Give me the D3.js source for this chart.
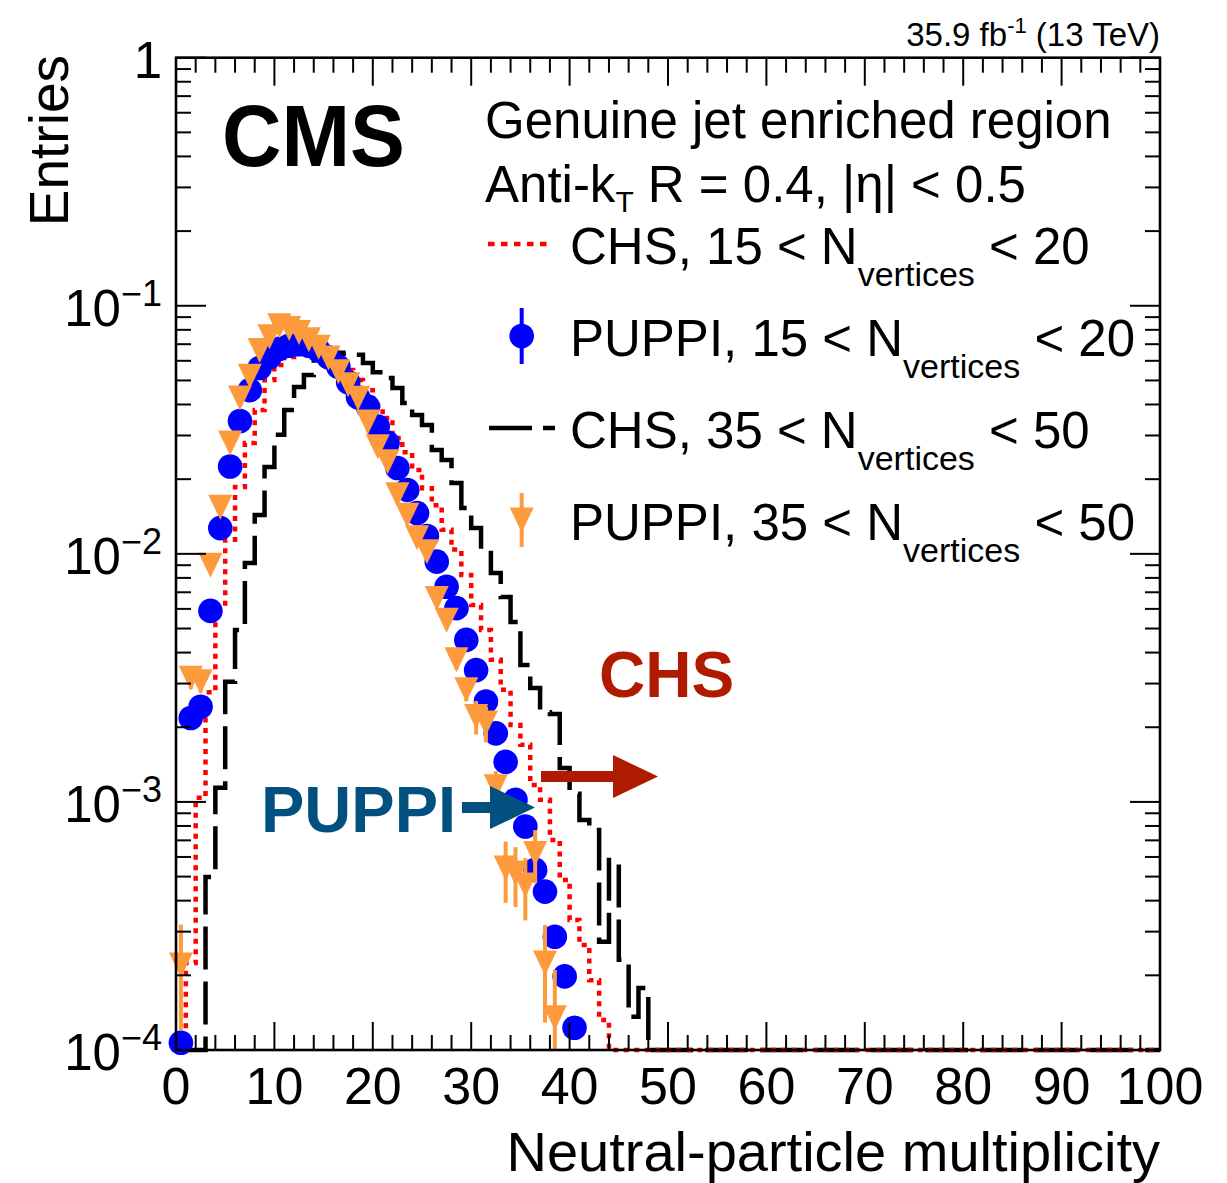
<!DOCTYPE html>
<html>
<head>
<meta charset="utf-8">
<script src="https://cdn.jsdelivr.net/npm/d3@7"></script>
<style>
  body { margin: 0; background: #fff; }
  text { font-family: "Liberation Sans", Arial, Helvetica, sans-serif; }
</style>
</head>
<body>
<div id="chart"></div>
<script>
// ---- data (bin i covers [i, i+1) ; bins past the end of an array are empty) ----
const nBins = 100
const xTicks = [0, 10, 20, 30, 40, 50, 60, 70, 80, 90, 100]
const yTicks = [1e-4, 1e-3, 1e-2, 1e-1, 1]
const yTickBase = ["10", "10", "10", "10", "1"]
const yTickExp = ["\u22124", "\u22123", "\u22122", "\u22121", ""]

// CHS, 15 < Nvertices < 20 (red dotted histogram)
const chsLow = [0, 2.24e-4, 1.04e-3, 2.77e-3, 6.12e-3, 0.0114, 0.0186, 0.0280, 0.0380, 0.0502,
  0.0577, 0.0622, 0.0652, 0.0664, 0.0658, 0.0640, 0.0605, 0.0551, 0.0502, 0.0457,
  0.0395, 0.0353, 0.0293, 0.0257, 0.0218, 0.0184, 0.0157, 0.0125, 0.0104, 0.00822,
  0.00622, 0.00493, 0.00374, 0.00283, 0.00204, 0.00170, 0.00117, 0.00102, 7.03e-4, 4.85e-4,
  3.34e-4, 2.65e-4, 1.91e-4, 1.32e-4]

// CHS, 35 < Nvertices < 50 (black dashed histogram)
const chsHigh = [0, 0, 0, 4.98e-4, 1.14e-3, 3.05e-3, 4.93e-3, 9.18e-3, 0.01435, 0.0224,
  0.0302, 0.0380, 0.0471, 0.0526, 0.0622, 0.0646, 0.0646, 0.0640, 0.0634, 0.0588,
  0.0540, 0.0512, 0.0466, 0.0406, 0.0363, 0.0331, 0.0262, 0.0239, 0.0193, 0.0153,
  0.0127, 0.01037, 0.00838, 0.00670, 0.00531, 0.00356, 0.00288, 0.00230, 0.00226, 0.00137,
  0.00108, 8.46e-4, 7.71e-4, 2.73e-4, 5.83e-4, 2.31e-4, 1.36e-4, 1.78e-4]

// PUPPI, 15 < Nvertices < 20 (blue circles)
const puppiLow = [1.07e-4, 2.18e-3, 2.42e-3, 5.89e-3, 0.0127, 0.0225, 0.0343, 0.0457, 0.0561, 0.062,
  0.067, 0.069, 0.070, 0.069, 0.066, 0.062, 0.0568, 0.0492, 0.0428, 0.0392,
  0.0326, 0.0280, 0.0222, 0.0181, 0.0146, 0.0118, 0.0093, 0.00737, 0.00604, 0.00450,
  0.00340, 0.00254, 0.00189, 0.00145, 0.00102, 7.96e-4, 5.32e-4, 4.35e-4, 2.86e-4, 1.98e-4,
  1.23e-4]

// PUPPI, 35 < Nvertices < 50 (orange triangles) and their errors
const puppiHigh = [2.2e-4, 3.15e-3, 3.05e-3, 9.0e-3, 0.0154, 0.028, 0.0425, 0.052, 0.066, 0.075,
  0.083, 0.081, 0.078, 0.073, 0.068, 0.0616, 0.0542, 0.048, 0.0424, 0.034,
  0.027, 0.0235, 0.0173, 0.0143, 0.0116, 0.0102, 0.0066, 0.0054, 0.00374, 0.00283,
  0.00221, 0.00208, 0.00115, 5.42e-4, 5.17e-4, 4.63e-4, 6.2e-4, 2.24e-4, 1.35e-4]
const puppiHighErr = [1.0e-4, 3e-4, 3e-4, 5e-4, 6e-4, 8e-4, 1e-3, 1.1e-3, 1.2e-3, 1.3e-3,
  1.4e-3, 1.4e-3, 1.3e-3, 1.3e-3, 1.2e-3, 1.2e-3, 1.1e-3, 1e-3, 1e-3, 9e-4,
  8e-4, 8e-4, 7e-4, 6e-4, 5.5e-4, 5e-4, 4e-4, 3.8e-4, 3.2e-4, 2.8e-4,
  3.4e-4, 3.4e-4, 1.8e-4, 1.5e-4, 1.4e-4, 1.3e-4, 1.5e-4, 0.95e-4, 0.75e-4]

// ---- layout ----
const W = 1227, H = 1183
const frame = { left: 176, right: 1160, top: 57.7, bottom: 1050 }
const colors = { red: "#ff0000", blue: "#0000ff", orange: "#fd9a3c", puppi: "#01507f", chs: "#b01a00" }

const svg = d3.select("#chart").append("svg")
  .attr("width", W).attr("height", H)

const x = d3.scaleLinear().domain([0, nBins]).range([frame.left, frame.right])
const y = d3.scaleLog().domain([1e-4, 1]).range([frame.bottom, frame.top])
const yc = v => v > 1e-4 ? y(v) : y(1e-4)

/* HISTOGRAM STEPS */
function stepPoints(vals) {
  const pts = []
  for (let i = 0; i < nBins; i++) {
    const v = i < vals.length ? vals[i] : 0
    pts.push([i, v], [i + 1, v])
  }
  return pts
}
const stepLine = d3.line().x(d => x(d[0])).y(d => yc(d[1]))

svg.append("path")
  .attr("d", stepLine(stepPoints(chsHigh)))
  .attr("fill", "none").attr("stroke", "#000")
  .attr("stroke-width", 4.5).attr("stroke-dasharray", "43,12")

svg.append("path")
  .attr("d", stepLine(stepPoints(chsLow)))
  .attr("fill", "none").attr("stroke", colors.red)
  .attr("stroke-width", 4.5).attr("stroke-dasharray", "5,5.5")

/* MARKERS */
svg.append("g").selectAll("circle")
  .data(puppiLow)
  .join("circle")
  .attr("cx", (d, i) => x(i + 0.5))
  .attr("cy", d => y(d))
  .attr("r", 12.3)
  .attr("fill", colors.blue)

svg.append("g").selectAll("line")
  .data(puppiHigh)
  .join("line")
  .attr("x1", (d, i) => x(i + 0.5)).attr("x2", (d, i) => x(i + 0.5))
  .attr("y1", (d, i) => yc(d + puppiHighErr[i]))
  .attr("y2", (d, i) => yc(d - puppiHighErr[i]))
  .attr("stroke", colors.orange).attr("stroke-width", 4)

const tri = (cx, cy) => `M${cx - 12},${cy - 12.5}L${cx + 12},${cy - 12.5}L${cx},${cy + 12.5}Z`
svg.append("g").selectAll("path")
  .data(puppiHigh)
  .join("path")
  .attr("d", (d, i) => tri(x(i + 0.5), y(d)))
  .attr("fill", colors.orange)

/* FRAME AND TICKS */
const axes = svg.append("g").attr("stroke", "#000")
axes.append("rect")
  .attr("x", frame.left).attr("y", frame.top)
  .attr("width", frame.right - frame.left).attr("height", frame.bottom - frame.top)
  .attr("fill", "none").attr("stroke-width", 2.6)

const xMinor = d3.range(0, nBins + 1, 2).filter(v => v % 10 !== 0)
const xAll = xTicks.map(v => ({ v, len: 28 })).concat(xMinor.map(v => ({ v, len: 15 })))
axes.selectAll(".xt-b").data(xAll).join("line")
  .attr("x1", d => x(d.v)).attr("x2", d => x(d.v))
  .attr("y1", frame.bottom).attr("y2", d => frame.bottom - d.len).attr("stroke-width", 2)
axes.selectAll(".xt-t").data(xAll).join("line")
  .attr("x1", d => x(d.v)).attr("x2", d => x(d.v))
  .attr("y1", frame.top).attr("y2", d => frame.top + d.len).attr("stroke-width", 2)

const yMinor = []
yTicks.slice(0, -1).forEach(dec => d3.range(2, 10).forEach(k => yMinor.push(dec * k)))
const yAll = yTicks.map(v => ({ v, len: 30 })).concat(yMinor.map(v => ({ v, len: 15 })))
axes.selectAll(".yt-l").data(yAll).join("line")
  .attr("x1", frame.left).attr("x2", d => frame.left + d.len)
  .attr("y1", d => y(d.v)).attr("y2", d => y(d.v)).attr("stroke-width", 2)
axes.selectAll(".yt-r").data(yAll).join("line")
  .attr("x1", frame.right).attr("x2", d => frame.right - d.len)
  .attr("y1", d => y(d.v)).attr("y2", d => y(d.v)).attr("stroke-width", 2)

/* TICK LABELS */
svg.append("g").selectAll("text")
  .data(xTicks)
  .join("text")
  .attr("x", d => x(d)).attr("y", 1104)
  .attr("text-anchor", "middle").attr("font-size", 52)
  .text(d => d)

const yLab = svg.append("g").selectAll("text")
  .data(yTicks)
  .join("text")
  .attr("x", 162).attr("y", d => y(d) + 20)
  .attr("text-anchor", "end").attr("font-size", 51)
yLab.append("tspan").text((d, i) => yTickBase[i])
yLab.append("tspan").attr("font-size", 36).attr("dy", -20)
  .text((d, i) => yTickExp[i])

/* AXIS TITLES */
svg.append("text")
  .attr("transform", "translate(68,55) rotate(-90)")
  .attr("text-anchor", "end").attr("font-size", 55)
  .text("Entries")

svg.append("text")
  .attr("x", frame.right).attr("y", 1171)
  .attr("text-anchor", "end").attr("font-size", 56)
  .text("Neutral-particle multiplicity")

const lumi = svg.append("text")
  .attr("x", frame.right).attr("y", 46)
  .attr("text-anchor", "end").attr("font-size", 33)
lumi.append("tspan").text("35.9 fb")
lumi.append("tspan").attr("font-size", 22).attr("dy", -13).text("-1")
lumi.append("tspan").attr("dy", 13).text(" (13 TeV)")

svg.append("text")
  .attr("x", 222).attr("y", 166)
  .attr("font-size", 88).attr("font-weight", "bold")
  .attr("textLength", 183).attr("lengthAdjust", "spacingAndGlyphs")
  .text("CMS")

/* LEGEND */
svg.append("text").attr("x", 485).attr("y", 138).attr("font-size", 51)
  .text("Genuine jet enriched region")
const hdr = svg.append("text").attr("x", 485).attr("y", 202).attr("font-size", 51)
hdr.append("tspan").text("Anti-k")
hdr.append("tspan").attr("font-size", 30).attr("dy", 10).text("T")
hdr.append("tspan").attr("dy", -10).text(" R = 0.4, |\u03b7| < 0.5")

const legendRows = [
  { label: "CHS, 15 < N", tail: " < 20", kind: "red" },
  { label: "PUPPI, 15 < N", tail: " < 20", kind: "blue" },
  { label: "CHS, 35 < N", tail: " < 50", kind: "black" },
  { label: "PUPPI, 35 < N", tail: " < 50", kind: "orange" }
]
const lg = svg.append("g")
legendRows.forEach((row, i) => {
  const cy = 244 + i * 92
  if (row.kind === "red") {
    lg.append("line").attr("x1", 488).attr("x2", 550).attr("y1", cy).attr("y2", cy)
      .attr("stroke", colors.red).attr("stroke-width", 4.5).attr("stroke-dasharray", "6.5,6.5")
  } else if (row.kind === "black") {
    lg.append("line").attr("x1", 489).attr("x2", 555).attr("y1", cy).attr("y2", cy)
      .attr("stroke", "#000").attr("stroke-width", 4.5).attr("stroke-dasharray", "43,11")
  } else if (row.kind === "blue") {
    lg.append("line").attr("x1", 521.7).attr("x2", 521.7).attr("y1", cy - 28).attr("y2", cy + 28)
      .attr("stroke", colors.blue).attr("stroke-width", 4)
    lg.append("circle").attr("cx", 521.7).attr("cy", cy).attr("r", 12.3).attr("fill", colors.blue)
  } else {
    lg.append("line").attr("x1", 521.7).attr("x2", 521.7).attr("y1", cy - 27).attr("y2", cy + 27)
      .attr("stroke", colors.orange).attr("stroke-width", 4)
    lg.append("path").attr("d", tri(521.7, cy)).attr("fill", colors.orange)
  }
  const t = lg.append("text").attr("x", 570).attr("y", cy + 20).attr("font-size", 51)
  t.append("tspan").text(row.label)
  t.append("tspan").attr("font-size", 34).attr("dy", 22).text("vertices")
  t.append("tspan").attr("dy", -22).text(row.tail)
})

/* ANNOTATION ARROWS */
svg.append("text").attr("x", 261).attr("y", 832)
  .attr("font-size", 65).attr("font-weight", "bold").attr("fill", colors.puppi)
  .text("PUPPI")
svg.append("rect").attr("x", 462).attr("y", 802).attr("width", 30).attr("height", 11)
  .attr("fill", colors.puppi)
svg.append("path").attr("d", "M490,786L535,807.5L490,829Z").attr("fill", colors.puppi)

svg.append("text").attr("x", 599).attr("y", 697)
  .attr("font-size", 64).attr("font-weight", "bold").attr("fill", colors.chs)
  .text("CHS")
svg.append("rect").attr("x", 541).attr("y", 771).attr("width", 75).attr("height", 11)
  .attr("fill", colors.chs)
svg.append("path").attr("d", "M613,755L658,776.5L613,798Z").attr("fill", colors.chs)
</script>
</body>
</html>
